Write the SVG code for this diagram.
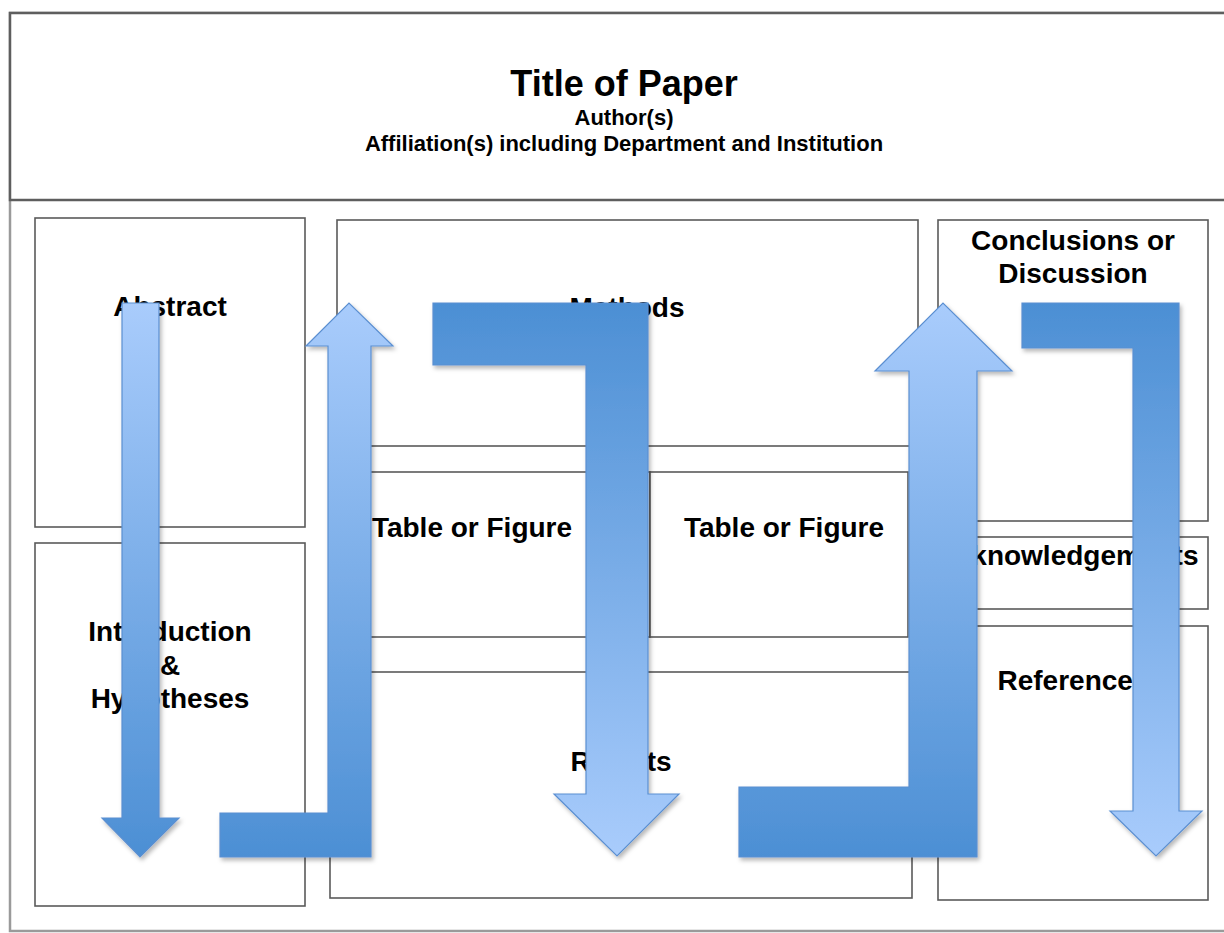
<svg xmlns="http://www.w3.org/2000/svg" width="1224" height="933" viewBox="0 0 1224 933">
  <style>
    .box { fill: #ffffff; stroke: #5a5a5a; stroke-width: 1.6; }
    .lbl { font-family: "Liberation Sans", Arial, Helvetica, sans-serif; font-weight: bold; fill: #000000; text-anchor: middle; font-size: 28px; }
    .title { font-family: "Liberation Sans", Arial, Helvetica, sans-serif; font-weight: bold; fill: #000000; text-anchor: middle; font-size: 36px; }
    .sub { font-family: "Liberation Sans", Arial, Helvetica, sans-serif; font-weight: bold; fill: #000000; text-anchor: middle; font-size: 22px; }
    .arrow { stroke: #5b8fd1; stroke-width: 1.2; filter: url(#shadow); }
  </style>
  <defs>
    <linearGradient id="lightTop" x1="0" y1="0" x2="0" y2="1">
      <stop offset="0" stop-color="#a9ccfc"/>
      <stop offset="1" stop-color="#4c8fd4"/>
    </linearGradient>
    <linearGradient id="darkTop" x1="0" y1="0" x2="0" y2="1">
      <stop offset="0" stop-color="#4c8fd4"/>
      <stop offset="1" stop-color="#a9ccfc"/>
    </linearGradient>
    <filter id="shadow" x="-10%" y="-10%" width="130%" height="130%">
      <feDropShadow dx="2" dy="3" stdDeviation="2" flood-color="#000000" flood-opacity="0.28"/>
    </filter>
  </defs>

  <rect x="0" y="0" width="1224" height="933" fill="#ffffff"/>

  <g id="frame">
    <rect x="10" y="13" width="1230" height="918" fill="#ffffff" stroke="#9a9a9a" stroke-width="2.5"/>
  </g>
  <g id="header">
    <rect x="10" y="13" width="1230" height="187" fill="#ffffff" stroke="#5e5e5e" stroke-width="2.5"/>
    <text class="title" x="624" y="96">Title of Paper</text>
    <text class="sub" x="624" y="125">Author(s)</text>
    <text class="sub" x="624" y="151">Affiliation(s) including Department and Institution</text>
  </g>

  <g id="abstract">
    <rect class="box" x="35" y="218" width="270" height="309"/>
    <text class="lbl" x="170" y="316">Abstract</text>
  </g>
  <g id="introduction">
    <rect class="box" x="35" y="543" width="270" height="363"/>
    <text class="lbl" x="170" y="641">Introduction</text>
    <text class="lbl" x="170" y="675">&amp;</text>
    <text class="lbl" x="170" y="708">Hypotheses</text>
  </g>
  <g id="methods">
    <rect class="box" x="337" y="220" width="581" height="226"/>
    <text class="lbl" x="627" y="317">Methods</text>
  </g>
  <g id="table1">
    <rect class="box" x="337" y="472" width="313" height="165"/>
    <text class="lbl" x="472" y="537">Table or Figure</text>
  </g>
  <g id="table2">
    <rect class="box" x="650" y="472" width="258" height="165"/>
    <text class="lbl" x="784" y="537">Table or Figure</text>
  </g>
  <g id="results">
    <rect class="box" x="330" y="672" width="582" height="226"/>
    <text class="lbl" x="621" y="771">Results</text>
  </g>
  <g id="conclusions">
    <rect class="box" x="938" y="220" width="270" height="301"/>
    <text class="lbl" x="1073" y="250">Conclusions or</text>
    <text class="lbl" x="1073" y="283">Discussion</text>
  </g>
  <g id="acknowledgements">
    <rect class="box" x="938" y="537" width="270" height="72"/>
    <text class="lbl" x="1067" y="565">Acknowledgements</text>
  </g>
  <g id="references">
    <rect class="box" x="938" y="626" width="270" height="274"/>
    <text class="lbl" x="1073" y="690">References</text>
  </g>

  <g id="connectors">
    <polygon class="arrow" fill="url(#lightTop)" points="122,303 159,303 159,818 179,818 140,857 102,818 122,818"/>
    <polygon class="arrow" fill="url(#lightTop)" points="220,813 328,813 328,346 306,346 349,303 393,346 371,346 371,857 220,857"/>
    <polygon class="arrow" fill="url(#darkTop)" points="433,303 648,303 648,794 679,794 617,856 554,794 586,794 586,365 433,365"/>
    <polygon class="arrow" fill="url(#lightTop)" points="739,787 909,787 909,371 875,371 943,303 1012,371 977,371 977,857 739,857"/>
    <polygon class="arrow" fill="url(#darkTop)" points="1022,303 1179,303 1179,811 1202,811 1156,856 1110,811 1133,811 1133,348 1022,348"/>
  </g>
</svg>
